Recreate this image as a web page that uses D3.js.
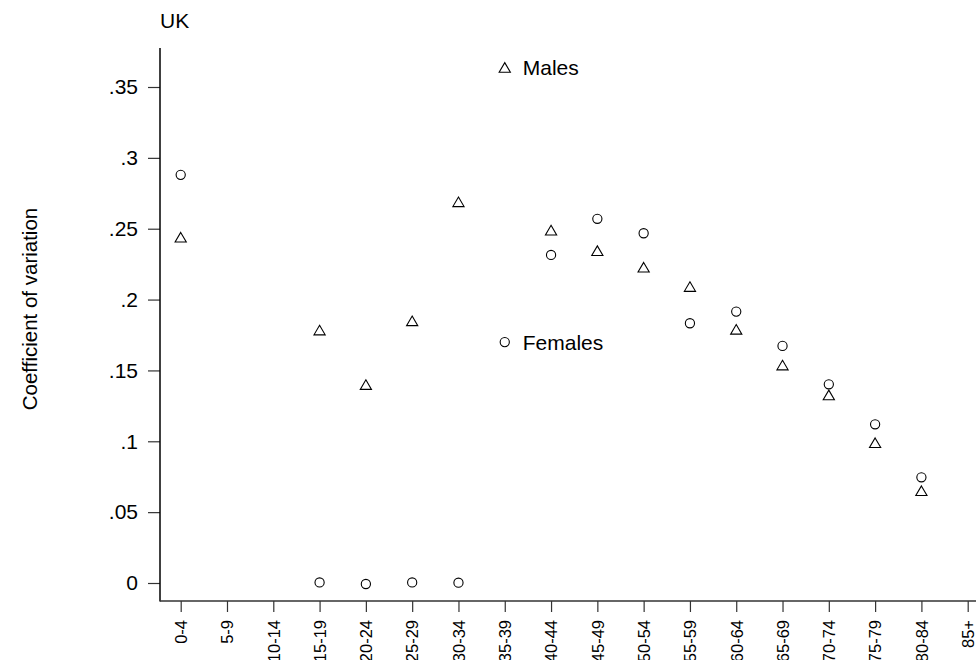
<!DOCTYPE html>
<html>
<head>
<meta charset="utf-8">
<script src="https://cdn.jsdelivr.net/npm/d3@7"></script>
<style>
  body { margin: 0; background: #fff; }
  text { font-family: Arial, "Liberation Sans", Helvetica, sans-serif; fill: #000; }
</style>
</head>
<body>
<script>
// age groups on the x axis
var ageGroups = ["0-4", "5-9", "10-14", "15-19", "20-24", "25-29", "30-34", "35-39", "40-44",
                 "45-49", "50-54", "55-59", "60-64", "65-69", "70-74", "75-79", "80-84", "85+"];

// coefficient of variation, null where no value
var males = [0.244, null, null, 0.1785, 0.140, 0.185, 0.269, null, 0.249,
             0.2345, 0.2228, 0.2092, 0.179, 0.1538, 0.1327, 0.099, 0.0651, null];
var females = [0.288, null, null, 0.0004, -0.0007, 0.0004, 0.0002, null, 0.2315,
               0.257, 0.2468, 0.1833, 0.1915, 0.1673, 0.1402, 0.112, 0.0746, null];

var yTicks = [0, 0.05, 0.1, 0.15, 0.2, 0.25, 0.3, 0.35];
var yTickLabels = ["0", ".05", ".1", ".15", ".2", ".25", ".3", ".35"];

// in-plot labels: age group and value where they sit
var labels = [
  {name: "Males", group: "35-39", value: 0.3638, shape: "triangle"},
  {name: "Females", group: "35-39", value: 0.170, shape: "circle"}
];

var width = 976, height = 660;
var axisX = 160, axisY = 601;

var svg = d3.select("body").append("svg")
    .attr("width", width)
    .attr("height", height);

// scales
var x = d3.scalePoint().domain(ageGroups).range([180.7, 967.7]);
var y = d3.scaleLinear().domain([0, 0.35]).range([583, 87]);

// triangle marker centred on its bounding box
var tri = {
  draw: function(ctx, size) {
    var w = 5.6, h = 9.6;
    ctx.moveTo(0, -h / 2);
    ctx.lineTo(w, h / 2);
    ctx.lineTo(-w, h / 2);
    ctx.closePath();
  }
};
var triPath = d3.symbol().type(tri)();

// y axis
var yAxis = svg.append("g")
    .attr("transform", "translate(" + axisX + ",0)")
    .call(d3.axisLeft(y).tickValues(yTicks)
      .tickFormat(function(d, i) { return yTickLabels[i]; })
      .tickSize(12).tickPadding(10));
yAxis.select(".domain").remove();
yAxis.selectAll(".tick line").attr("stroke", "#333").attr("stroke-width", 1.2);
yAxis.selectAll(".tick text")
    .style("font-size", "21px")
    .attr("fill", "#000");
svg.append("line")
    .attr("x1", axisX).attr("x2", axisX)
    .attr("y1", 48).attr("y2", axisY + 0.5)
    .attr("stroke", "#000").attr("stroke-width", 1.5);

// x axis
var xAxis = svg.append("g")
    .attr("transform", "translate(0," + axisY + ")")
    .call(d3.axisBottom(x).tickSize(11).tickPadding(8));
xAxis.select(".domain").remove();
xAxis.selectAll(".tick line").attr("stroke", "#333").attr("stroke-width", 1.2);
xAxis.selectAll(".tick text")
    .style("font-size", "16.5px")
    .attr("fill", "#000")
    .attr("transform", "rotate(-90)")
    .attr("text-anchor", "end")
    .attr("x", -19)
    .attr("y", 0)
    .attr("dy", "0.35em");
svg.append("line")
    .attr("x1", axisX).attr("x2", width)
    .attr("y1", axisY).attr("y2", axisY)
    .attr("stroke", "#333").attr("stroke-width", 1.5);

// males: triangles
svg.append("g").selectAll("path")
    .data(males.map(function(v, i) { return {g: ageGroups[i], v: v}; })
               .filter(function(d) { return d.v !== null; }))
    .enter().append("path")
    .attr("d", triPath)
    .attr("transform", function(d) { return "translate(" + x(d.g) + "," + y(d.v) + ")"; })
    .attr("fill", "none")
    .attr("stroke", "#000")
    .attr("stroke-width", 1.1);

// females: circles
svg.append("g").selectAll("circle")
    .data(females.map(function(v, i) { return {g: ageGroups[i], v: v}; })
                 .filter(function(d) { return d.v !== null; }))
    .enter().append("circle")
    .attr("cx", function(d) { return x(d.g); })
    .attr("cy", function(d) { return y(d.v); })
    .attr("r", 4.6)
    .attr("fill", "none")
    .attr("stroke", "#000")
    .attr("stroke-width", 1.1);

// series labels inside the plot
var lab = svg.append("g").selectAll("g")
    .data(labels).enter().append("g")
    .attr("transform", function(d) { return "translate(" + x(d.group) + "," + y(d.value) + ")"; });
lab.each(function(d) {
  var g = d3.select(this);
  if (d.shape === "triangle") {
    g.append("path").attr("d", triPath)
      .attr("fill", "none").attr("stroke", "#000").attr("stroke-width", 1.1);
  } else {
    g.append("circle").attr("r", 4.6)
      .attr("fill", "none").attr("stroke", "#000").attr("stroke-width", 1.1);
  }
  g.append("text")
    .attr("x", 18)
    .attr("dy", "0.36em")
    .style("font-size", "21px")
    .text(d.name);
});

// title
svg.append("text")
    .attr("x", 160)
    .attr("y", 28)
    .style("font-size", "21px")
    .text("UK");

// y axis label
svg.append("text")
    .attr("transform", "translate(37,309) rotate(-90)")
    .attr("text-anchor", "middle")
    .style("font-size", "20.5px")
    .text("Coefficient of variation");
</script>
</body>
</html>
